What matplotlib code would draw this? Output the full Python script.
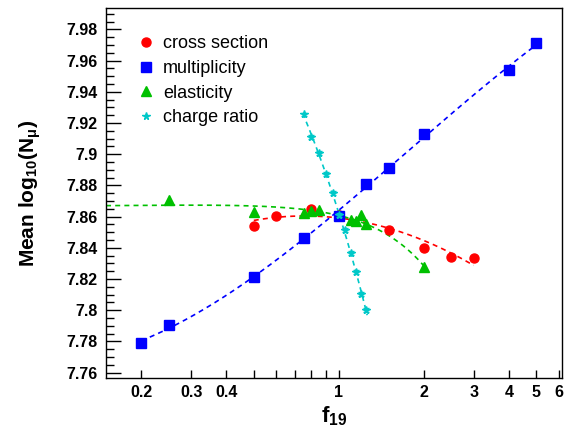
import numpy as np
import matplotlib
matplotlib.use("Agg")
import matplotlib.pyplot as plt
from matplotlib.lines import Line2D
from matplotlib.ticker import FixedLocator, NullFormatter, MultipleLocator

plt.rcParams['font.family'] = ['Liberation Sans', 'DejaVu Sans']
plt.rcParams['mathtext.fontset'] = 'custom'
plt.rcParams['mathtext.rm'] = 'Liberation Sans'
plt.rcParams['mathtext.bf'] = 'Liberation Sans:bold'
plt.rcParams['mathtext.default'] = 'bf'

# data
xs_f = [0.5, 0.6, 0.8, 1.0, 1.5, 2.0, 2.5, 3.0]
xs_y = [7.8542, 7.8604, 7.8647, 7.861, 7.8512, 7.840, 7.834, 7.8335]

mult_f = [0.2, 0.25, 0.5, 0.75, 1.0, 1.25, 1.5, 2.0, 4.0, 5.0]
mult_y = [7.779, 7.7906, 7.821, 7.8463, 7.8606, 7.8807, 7.891, 7.913, 7.954, 7.9714]

el_f = [0.25, 0.5, 0.75, 0.8, 0.85, 1.0, 1.1, 1.15, 1.2, 1.25, 2.0]
el_y = [7.8706, 7.8628, 7.8621, 7.8636, 7.864, 7.861, 7.8576, 7.8574, 7.8612, 7.855, 7.8275]

cr_f = [0.75, 0.8, 0.85, 0.9, 0.95, 1.0, 1.05, 1.1, 1.15, 1.2, 1.25]
cr_y = [7.9255, 7.9112, 7.9006, 7.8871, 7.8749, 7.861, 7.8514, 7.8365, 7.8247, 7.8104, 7.8002]
cr_err = 0.0012

RED, BLUE, GREEN, CYAN = '#ff0000', '#0000ff', '#00c000', '#00c8c8'

fig = plt.figure(figsize=(5.64, 4.28), dpi=100)
ax = fig.add_axes([0.188, 0.117, 0.808, 0.864])
ax.set_xscale('log')

dash = (0, (3, 2.5))

# fitted curves
fx = np.geomspace(0.2, 5, 200)
c = np.polyfit(np.log10(mult_f), mult_y, 3)
ax.plot(fx, np.polyval(c, np.log10(fx)), color=BLUE, lw=1.2, ls=dash, zorder=2)

fx = np.geomspace(0.5, 3, 200)
c = np.polyfit(np.log10(xs_f), xs_y, 2)
ax.plot(fx, np.polyval(c, np.log10(fx)), color=RED, lw=1.2, ls=dash, zorder=2)

fx = np.geomspace(0.15, 2, 200)
c = np.polyfit(el_f, el_y, 2)
ax.plot(fx, np.polyval(c, fx), color=GREEN, lw=1.2, ls=dash, zorder=2)

fx = np.linspace(0.745, 1.26, 50)
c = np.polyfit(cr_f, cr_y, 1)
ax.plot(fx, np.polyval(c, fx), color=CYAN, lw=1.2, ls=dash, zorder=2)

# markers
ax.plot(xs_f, xs_y, 'o', color=RED, ms=6.5, zorder=3)
ax.plot(el_f, el_y, '^', color=GREEN, ms=6.5, zorder=4)
ax.plot(mult_f, mult_y, 's', color=BLUE, ms=6.5, zorder=5)
ax.errorbar(cr_f, cr_y, yerr=cr_err, fmt='*', color=CYAN, ms=5.5, elinewidth=1,
            capsize=2.5, capthick=1, zorder=6)

handles = [Line2D([], [], ls='none', marker='o', color=RED, ms=6.5),
           Line2D([], [], ls='none', marker='s', color=BLUE, ms=6.5),
           Line2D([], [], ls='none', marker='^', color=GREEN, ms=6.5),
           Line2D([], [], ls='none', marker='*', color=CYAN, ms=5.5)]
labels = ['cross section', 'multiplicity', 'elasticity', 'charge ratio']
ax.legend(handles, labels, loc='upper left', bbox_to_anchor=(0.0, 1.009),
          frameon=False, fontsize=13, handlelength=1.0, handletextpad=0.45,
          labelspacing=0.42, borderaxespad=1.4, borderpad=0.3)

ax.set_xlim(0.15, 6.15)
ax.set_ylim(7.7566, 7.9936)

ax.xaxis.set_major_locator(FixedLocator([0.2, 0.3, 0.4, 1, 2, 3, 4, 5, 6]))
ax.xaxis.set_minor_locator(FixedLocator([0.5, 0.6, 0.7, 0.8, 0.9]))
ax.xaxis.set_minor_formatter(NullFormatter())
ax.set_xticklabels(['0.2', '0.3', '0.4', '1', '2', '3', '4', '5', '6'])
ax.yaxis.set_minor_locator(MultipleLocator(0.005))
ax.set_yticks(np.arange(7.76, 7.99, 0.02))
ax.set_yticklabels(['7.76', '7.78', '7.8', '7.82', '7.84', '7.86', '7.88', '7.9',
                    '7.92', '7.94', '7.96', '7.98'])

ax.tick_params(which='both', direction='in', top=False, right=False, labelsize=11.5)
ax.tick_params(which='major', length=11, width=1)
ax.tick_params(which='minor', length=6, width=1)
ax.tick_params(axis='y', which='major', pad=6)
ax.tick_params(axis='x', which='both', length=6)
ax.tick_params(axis='x', which='major', pad=5)
for t in ax.get_xticklabels() + ax.get_yticklabels():
    t.set_fontweight('bold')
for s in ax.spines.values():
    s.set_linewidth(1)

ax.set_ylabel(r'Mean log$_{10}$(N$_{\mu}$)', fontsize=15, fontweight='bold', labelpad=17)
ax.set_xlabel(r'f$_{19}$', fontsize=16, fontweight='bold', labelpad=3)

fig.savefig('out.png', dpi=100)
